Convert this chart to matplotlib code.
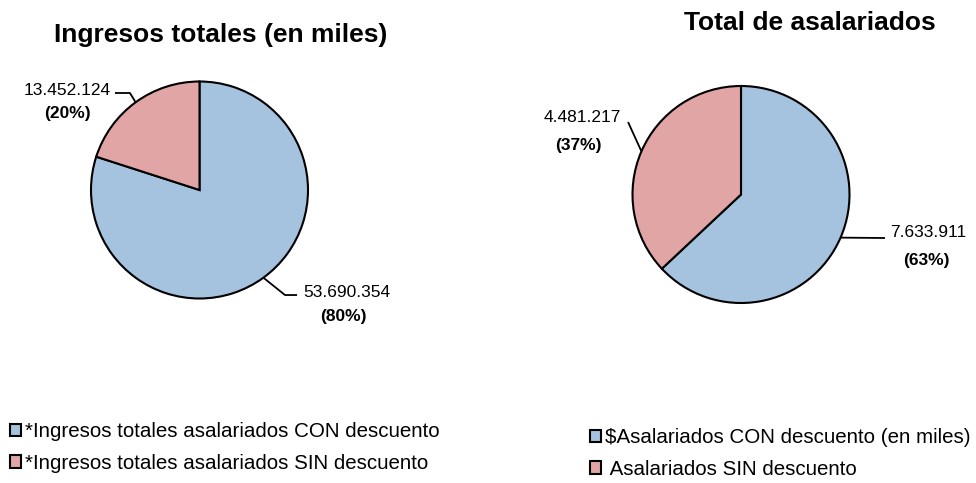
import matplotlib
matplotlib.use("Agg")
import matplotlib.pyplot as plt
import numpy as np

plt.rcParams['font.family'] = ['Liberation Sans', 'DejaVu Sans']

# datos
ingresos = [53690354, 13452124]
ingresos_lbl = ['53.690.354', '13.452.124']
ingresos_pct = ['(80%)', '(20%)']
ingresos_leg = ['*Ingresos totales asalariados CON descuento',
                '*Ingresos totales asalariados SIN descuento']

asalariados = [7633911, 4481217]
asalariados_lbl = ['7.633.911', '4.481.217']
asalariados_pct = ['(63%)', '(37%)']
asalariados_leg = ['$Asalariados CON descuento (en miles)',
                   ' Asalariados SIN descuento']

colores = ['#A5C2DF', '#E2A5A5']

W, H = 976, 483
fig = plt.figure(figsize=(W / 100, H / 100), dpi=100)


def pie_axes(cx, cy, r):
    ax = fig.add_axes([(cx - r) / W, 1 - (cy + r) / H, 2 * r / W, 2 * r / H])
    return ax


def mid_angles(vals):
    tot = float(sum(vals))
    out, acc = [], 0.0
    for v in vals:
        out.append(90 - 360 * (acc + v / tot / 2))
        acc += v / tot
    return out


def leader(ax, ang, pts):
    a = np.deg2rad(ang)
    xs = [np.cos(a)] + [p[0] for p in pts]
    ys = [np.sin(a)] + [p[1] for p in pts]
    ax.plot(xs, ys, color='black', lw=1.3, clip_on=False,
            solid_capstyle='butt')


def pintar(ax, vals):
    w, _ = ax.pie(vals, colors=colores, startangle=90, counterclock=False,
                  radius=1, wedgeprops=dict(edgecolor='black', linewidth=1.5))
    for p in w:
        p.set_clip_on(False)
    ax.set_xlim(-1, 1)
    ax.set_ylim(-1, 1)
    ax.axis('off')
    return w


# grafico izquierdo
ax1 = pie_axes(199.5, 190, 108.5)
w1 = pintar(ax1, ingresos)
m1 = mid_angles(ingresos)
leader(ax1, m1[0], [(0.788, -0.968), (0.899, -0.968)])
leader(ax1, m1[1], [(-0.641, 0.894), (-0.779, 0.894)])
ax1.text(1.355, -0.986, ingresos_lbl[0], ha='center', va='baseline', fontsize=12.5)
ax1.text(1.33, -1.207, ingresos_pct[0], ha='center', va='baseline', fontsize=12.5,
         fontweight='bold')
ax1.text(-1.221, 0.876, ingresos_lbl[1], ha='center', va='baseline', fontsize=12.5)
ax1.text(-1.221, 0.664, ingresos_pct[1], ha='center', va='baseline', fontsize=12.5,
         fontweight='bold')

# grafico derecho
ax2 = pie_axes(741, 194.5, 108.5)
w2 = pintar(ax2, asalariados)
m2 = mid_angles(asalariados)
leader(ax2, m2[0], [(1.327, -0.401)])
leader(ax2, m2[1], [(-1.041, 0.668)])
ax2.text(1.728, -0.392, asalariados_lbl[0], ha='center', va='baseline', fontsize=12.5)
ax2.text(1.71, -0.650, asalariados_pct[0], ha='center', va='baseline', fontsize=12.5,
         fontweight='bold')
ax2.text(-1.461, 0.668, asalariados_lbl[1], ha='center', va='baseline', fontsize=12.5)
ax2.text(-1.50, 0.41, asalariados_pct[1], ha='center', va='baseline', fontsize=12.5,
         fontweight='bold')

# titulos
fig.text(221 / W, 1 - 42 / H, 'Ingresos totales (en miles)', ha='center',
         va='baseline', fontsize=19, fontweight='bold')
fig.text(810 / W, 1 - 30 / H, 'Total de asalariados', ha='center',
         va='baseline', fontsize=19, fontweight='bold')

# leyendas
leg_kw = dict(loc='upper left', frameon=False, fontsize=14.8, handlelength=0.55,
              handleheight=0.55, handletextpad=0.2, labelspacing=0.62,
              borderpad=0, borderaxespad=0)
fig.legend(w1, ingresos_leg, bbox_to_anchor=(10 / W, 1 - 422 / H), **leg_kw)
fig.legend(w2, asalariados_leg, bbox_to_anchor=(590 / W, 1 - 428 / H), **leg_kw)

fig.savefig('out.png', dpi=100)
